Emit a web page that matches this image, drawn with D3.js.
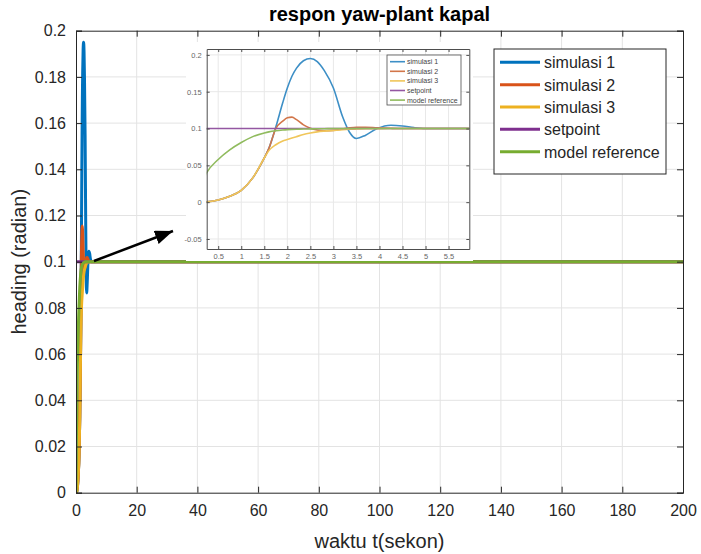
<!DOCTYPE html>
<html>
<head>
<meta charset="utf-8">
<script src="https://cdn.jsdelivr.net/npm/d3@7"></script>
<style>
  body { margin: 0; background: #fff; }
  svg { display: block; font-family: "Liberation Sans", Arial, Helvetica, sans-serif; }
</style>
</head>
<body>
<svg id="chart" width="701" height="554"></svg>
<script>
// time samples of the transient (seconds), last point = end of simulation
const TIME = [0, 0.25, 0.5, 0.75, 1.0, 1.25, 1.5, 1.6, 1.75, 1.9, 2.0, 2.1, 2.2, 2.35, 2.5, 2.65, 2.8, 3.0, 3.2, 3.35, 3.5, 3.7, 3.95, 4.25, 4.5, 4.75, 5.0, 5.5, 6.0, 200];

const SIM1 = [0, 0.0005, 0.003, 0.008, 0.016, 0.033, 0.06, 0.073, 0.102, 0.135, 0.155, 0.171, 0.182, 0.192, 0.195, 0.191, 0.179, 0.155, 0.116, 0.095, 0.0865, 0.091, 0.1, 0.1045, 0.1035, 0.1012, 0.1, 0.1, 0.1, 0.1];
const SIM2 = [0, 0.0005, 0.003, 0.008, 0.016, 0.033, 0.06, 0.073, 0.1, 0.11, 0.1145, 0.1155, 0.112, 0.105, 0.1005, 0.098, 0.097, 0.0975, 0.0995, 0.101, 0.1018, 0.1018, 0.101, 0.1003, 0.1, 0.1, 0.1, 0.1, 0.1, 0.1];
const SIM3 = [0, 0.0005, 0.003, 0.008, 0.016, 0.033, 0.06, 0.07, 0.078, 0.083, 0.085, 0.087, 0.089, 0.092, 0.094, 0.0955, 0.0965, 0.0975, 0.0985, 0.099, 0.0993, 0.0996, 0.0998, 0.1, 0.1, 0.1, 0.1, 0.1, 0.1, 0.1];
const SETPOINT = [0.1, 0.1, 0.1, 0.1, 0.1, 0.1, 0.1, 0.1, 0.1, 0.1, 0.1, 0.1, 0.1, 0.1, 0.1, 0.1, 0.1, 0.1, 0.1, 0.1, 0.1, 0.1, 0.1, 0.1, 0.1, 0.1, 0.1, 0.1, 0.1, 0.1];
const MODEL_REF = [0, 0.04, 0.058, 0.071, 0.081, 0.089, 0.094, 0.0955, 0.097, 0.098, 0.0985, 0.0988, 0.099, 0.0993, 0.0995, 0.0997, 0.0998, 0.1, 0.1, 0.1, 0.1, 0.1, 0.1, 0.1, 0.1, 0.1, 0.1, 0.1, 0.1, 0.1];

const SERIES_NAMES = ['simulasi 1', 'simulasi 2', 'simulasi 3', 'setpoint', 'model reference'];
const SERIES_VALUES = [SIM1, SIM2, SIM3, SETPOINT, MODEL_REF];
const COLORS = ['#0072bd', '#d95319', '#edb120', '#7e2f8e', '#77ac30'];
// the pasted zoom image is washed out, so its lines are lighter
const INSET_COLORS = ['#3d8fc6', '#d2764a', '#f0c65a', '#9457a2', '#90bb5e'];

const X_TICKS = [0, 20, 40, 60, 80, 100, 120, 140, 160, 180, 200];
const Y_TICKS = [0, 0.02, 0.04, 0.06, 0.08, 0.1, 0.12, 0.14, 0.16, 0.18, 0.2];
const INSET_X_TICKS = [0.5, 1, 1.5, 2, 2.5, 3, 3.5, 4, 4.5, 5, 5.5];
const INSET_Y_TICKS = [-0.05, 0, 0.05, 0.1, 0.15, 0.2];

const svg = d3.select('#chart');
const axisColor = '#262626';
const gridColor = '#e3e3e3';
const numFmt = d => String(+d.toFixed(2));

const series = SERIES_NAMES.map((name, i) => ({
  name,
  color: COLORS[i],
  insetColor: INSET_COLORS[i],
  points: TIME.map((t, j) => [t, SERIES_VALUES[i][j]])
}));

// ---------- main axes ----------
const x = d3.scaleLinear().domain([0, 200]).range([76, 683]);
const y = d3.scaleLinear().domain([0, 0.2]).range([492.7, 30.7]);

const main = svg.append('g');

// grid
main.append('g').selectAll('line')
  .data(X_TICKS.slice(1, -1))
  .join('line')
  .attr('x1', d => x(d)).attr('x2', d => x(d))
  .attr('y1', y(0)).attr('y2', y(0.2))
  .attr('stroke', gridColor).attr('stroke-width', 1);
main.append('g').selectAll('line')
  .data(Y_TICKS.slice(1, -1))
  .join('line')
  .attr('x1', x(0)).attr('x2', x(200))
  .attr('y1', d => y(d)).attr('y2', d => y(d))
  .attr('stroke', gridColor).attr('stroke-width', 1);

main.append('defs').append('clipPath').attr('id', 'main-clip')
  .append('rect')
  .attr('x', x(0)).attr('y', y(0.2) - 2)
  .attr('width', x(200) - x(0)).attr('height', y(0) - y(0.2) + 4);

const mainLine = d3.line()
  .x(d => x(d[0]))
  .y(d => y(d[1]))
  .curve(d3.curveMonotoneX);

main.append('g').attr('clip-path', 'url(#main-clip)')
  .selectAll('path')
  .data(series)
  .join('path')
  .attr('d', d => mainLine(d.points))
  .attr('fill', 'none')
  .attr('stroke', d => d.color)
  .attr('stroke-width', 3)
  .attr('stroke-linejoin', 'round');

// axes (ticks inside, box on)
const tickFont = 16;
const xAxis = d3.axisBottom(x).tickValues(X_TICKS).tickSize(-6).tickPadding(12).tickFormat(d3.format('d'));
const yAxis = d3.axisLeft(y).tickValues(Y_TICKS).tickSize(-6).tickPadding(10).tickFormat(numFmt);

function styleAxis(g) {
  g.select('.domain').attr('stroke', axisColor);
  g.selectAll('.tick line').attr('stroke', axisColor);
  g.selectAll('.tick text').attr('fill', axisColor).attr('font-size', tickFont).attr('font-family', null);
}

main.append('g').attr('transform', `translate(0,${y(0)})`).call(xAxis).call(styleAxis);
main.append('g').attr('transform', `translate(${x(0)},0)`).call(yAxis).call(styleAxis);
main.append('g').attr('transform', `translate(0,${y(0.2)})`)
  .call(d3.axisTop(x).tickValues(X_TICKS).tickSize(-6).tickFormat(''))
  .call(styleAxis);
main.append('g').attr('transform', `translate(${x(200)},0)`)
  .call(d3.axisRight(y).tickValues(Y_TICKS).tickSize(-6).tickFormat(''))
  .call(styleAxis);

// labels
svg.append('text')
  .attr('x', (x(0) + x(200)) / 2).attr('y', 21)
  .attr('text-anchor', 'middle')
  .attr('font-size', 20).attr('font-weight', 'bold')
  .attr('fill', '#000')
  .text('respon yaw-plant kapal');

svg.append('text')
  .attr('x', (x(0) + x(200)) / 2).attr('y', 548)
  .attr('text-anchor', 'middle')
  .attr('font-size', 20)
  .attr('fill', axisColor)
  .text('waktu t(sekon)');

svg.append('text')
  .attr('transform', `translate(26,${(y(0) + y(0.2)) / 2}) rotate(-90)`)
  .attr('text-anchor', 'middle')
  .attr('font-size', 20)
  .attr('fill', axisColor)
  .text('heading (radian)');

// main legend
const legend = svg.append('g');
legend.append('rect')
  .attr('x', 494).attr('y', 49)
  .attr('width', 172).attr('height', 125)
  .attr('fill', '#fff').attr('stroke', axisColor).attr('stroke-width', 1);
const legItem = legend.selectAll('g')
  .data(series)
  .join('g')
  .attr('transform', (d, i) => `translate(0,${62.3 + i * 22.35})`);
legItem.append('line')
  .attr('x1', 500).attr('x2', 540)
  .attr('stroke', d => d.color).attr('stroke-width', 3);
legItem.append('text')
  .attr('x', 544).attr('y', 6)
  .attr('font-size', 16).attr('fill', axisColor)
  .text(d => d.name);

// ---------- arrow ----------
svg.append('defs').append('marker')
  .attr('id', 'arrowhead')
  .attr('viewBox', '0 -7 18 14')
  .attr('refX', 18).attr('refY', 0)
  .attr('markerWidth', 18).attr('markerHeight', 14)
  .attr('markerUnits', 'userSpaceOnUse')
  .attr('orient', 'auto')
  .append('path')
  .attr('d', 'M0,-7L18,0L0,7Z')
  .attr('fill', '#000');

svg.append('line')
  .attr('x1', 94).attr('y1', 261)
  .attr('x2', 173).attr('y2', 231)
  .attr('stroke', '#000').attr('stroke-width', 2.5)
  .attr('marker-end', 'url(#arrowhead)');

// ---------- inset (zoom of the transient) ----------
const inset = svg.append('g');
inset.append('rect')
  .attr('x', 186).attr('y', 42)
  .attr('width', 287).attr('height', 219)
  .attr('fill', '#fff');

const xi = d3.scaleLinear().domain([0.25, 5.95]).range([206.7, 469.3]);
const yi = d3.scaleLinear().domain([-0.0636, 0.208]).range([249, 49]);

inset.append('g').selectAll('line')
  .data(INSET_X_TICKS)
  .join('line')
  .attr('x1', d => xi(d)).attr('x2', d => xi(d))
  .attr('y1', yi.range()[0]).attr('y2', yi.range()[1])
  .attr('stroke', '#e8e8e8');
inset.append('g').selectAll('line')
  .data(INSET_Y_TICKS)
  .join('line')
  .attr('x1', xi.range()[0]).attr('x2', xi.range()[1])
  .attr('y1', d => yi(d)).attr('y2', d => yi(d))
  .attr('stroke', '#e8e8e8');

inset.append('defs').append('clipPath').attr('id', 'inset-clip')
  .append('rect')
  .attr('x', xi.range()[0]).attr('y', yi.range()[1])
  .attr('width', xi.range()[1] - xi.range()[0])
  .attr('height', yi.range()[0] - yi.range()[1]);

const insetLine = d3.line()
  .x(d => xi(d[0]))
  .y(d => yi(d[1]))
  .curve(d3.curveMonotoneX);

inset.append('g').attr('clip-path', 'url(#inset-clip)')
  .selectAll('path')
  .data(series)
  .join('path')
  .attr('d', d => insetLine(d.points))
  .attr('fill', 'none')
  .attr('stroke', d => d.insetColor)
  .attr('stroke-width', 1.6);

const insetColor = '#4d4d4d';
function styleInset(g) {
  g.select('.domain').attr('stroke', insetColor);
  g.selectAll('.tick line').attr('stroke', insetColor);
  g.selectAll('.tick text').attr('fill', '#666').attr('font-size', 7.5).attr('font-family', null);
}
inset.append('g').attr('transform', `translate(0,${yi.range()[0]})`)
  .call(d3.axisBottom(xi).tickValues(INSET_X_TICKS).tickSize(-3).tickPadding(5).tickSizeOuter(0).tickFormat(numFmt))
  .call(styleInset);
inset.append('g').attr('transform', `translate(${xi.range()[0]},0)`)
  .call(d3.axisLeft(yi).tickValues(INSET_Y_TICKS).tickSize(-3).tickPadding(5).tickSizeOuter(0).tickFormat(numFmt))
  .call(styleInset);
inset.append('g').attr('transform', `translate(0,${yi.range()[1]})`)
  .call(d3.axisTop(xi).tickValues(INSET_X_TICKS).tickSize(-3).tickFormat('').tickSizeOuter(0))
  .call(styleInset);
inset.append('g').attr('transform', `translate(${xi.range()[1]},0)`)
  .call(d3.axisRight(yi).tickValues(INSET_Y_TICKS).tickSize(-3).tickFormat('').tickSizeOuter(0))
  .call(styleInset);

// inset legend
const iLeg = inset.append('g');
iLeg.append('rect')
  .attr('x', 387).attr('y', 55)
  .attr('width', 74).attr('height', 50)
  .attr('fill', '#fff').attr('stroke', insetColor).attr('stroke-width', 0.8);
const iItem = iLeg.selectAll('g')
  .data(series)
  .join('g')
  .attr('transform', (d, i) => `translate(0,${61.7 + i * 9.6})`);
iItem.append('line')
  .attr('x1', 390).attr('x2', 405)
  .attr('stroke', d => d.insetColor).attr('stroke-width', 1.6);
iItem.append('text')
  .attr('x', 407).attr('y', 2.5)
  .attr('font-size', 7).attr('fill', '#444')
  .text(d => d.name);
</script>
</body>
</html>
